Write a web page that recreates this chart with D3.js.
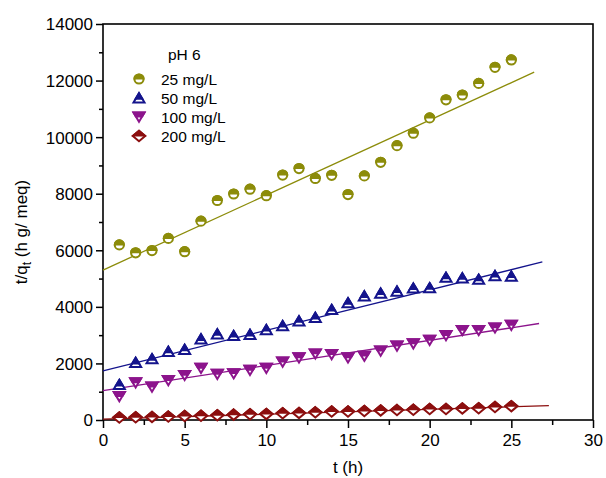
<!DOCTYPE html>
<html>
<head>
<meta charset="utf-8">
<script src="https://cdn.jsdelivr.net/npm/d3@7"></script>
<style>
  body { margin: 0; background: #fff; }
  text { font-family: "Liberation Sans", Arial, sans-serif; fill: #000; }
</style>
</head>
<body>
<div id="chart"></div>
<script>
// time points (h)
const hours = d3.range(1, 26);

// t/qt values, one array per concentration
const c25  = [6190, 5910, 5990, 6420, 5950, 7030, 7760, 7990, 8160, 7930, 8660, 8890, 8540, 8650, 7970,
              8630, 9110, 9700, 10140, 10680, 11320, 11490, 11900, 12470, 12730];
const c50  = [1250, 2030, 2160, 2420, 2490, 2860, 3040, 2980, 3020, 3190, 3330, 3500, 3620, 3900, 4140,
              4380, 4480, 4550, 4660, 4670, 5040, 5020, 4970, 5100, 5080];
const c100 = [830, 1320, 1170, 1400, 1580, 1830, 1620, 1640, 1760, 1830, 2050, 2200, 2340, 2320, 2200,
              2260, 2440, 2620, 2700, 2820, 2990, 3170, 3170, 3260, 3350];
const c200 = [90, 95, 110, 120, 140, 150, 170, 190, 205, 215, 240, 250, 270, 300, 300,
              320, 340, 350, 360, 390, 390, 410, 415, 460, 490];

// linear fits drawn through each set
const fitIntercept = [5300, 1740, 1035, 30];
const fitSlope     = [265, 143, 89, 17.5];
const fitEnd       = [26.4, 26.9, 26.7, 27.3];

const labels = ["25 mg/L", "50 mg/L", "100 mg/L", "200 mg/L"];
const colors = ["#8c8c0a", "#14148c", "#8c148c", "#8c0f0f"];
const shapes = ["circle", "triUp", "triDown", "diamond"];
const allSeries = [c25, c50, c100, c200];

const width = 606, height = 478;
const margin = {top: 24, right: 13, bottom: 58, left: 103};

const svg = d3.select("#chart").append("svg")
    .attr("width", width)
    .attr("height", height);

const x = d3.scaleLinear().domain([0, 30]).range([margin.left, width - margin.right]);
const y = d3.scaleLinear().domain([0, 14000]).range([height - margin.bottom, margin.top]);

// clips that keep the top part of a marker (local coords)
const defs = svg.append("defs");
defs.append("clipPath").attr("id", "tophalf")
  .append("rect").attr("x", -12).attr("y", -12).attr("width", 24).attr("height", 12.5);
defs.append("clipPath").attr("id", "topmost")
  .append("rect").attr("x", -12).attr("y", -12).attr("width", 24).attr("height", 13.8);

// marker outlines
function shapePath(s) {
  if (s == "circle") return "M-4.6,0A4.6,4.6 0 1,1 4.6,0A4.6,4.6 0 1,1 -4.6,0Z";
  if (s == "triUp") return "M0,-4.8L5.5,4.4L-5.5,4.4Z";
  if (s == "triDown") return "M0,4.8L5.5,-4.4L-5.5,-4.4Z";
  return "M0,-5.2L6.2,0L0,5.2L-6.2,0Z";
}

function drawMarker(g, s, col) {
  g.append("path").attr("d", shapePath(s))
    .attr("fill", "#fff").attr("stroke", col).attr("stroke-width", 2);
  g.append("path").attr("d", shapePath(s))
    .attr("fill", col).attr("stroke", col).attr("stroke-width", 2)
    .attr("clip-path", s == "triUp" ? "url(#topmost)" : "url(#tophalf)");
}

// axes (frame)
const xAxis = d3.axisBottom(x).tickValues(d3.range(0, 31, 5)).tickSize(8).tickPadding(4);
const xMinor = d3.axisBottom(x).tickValues(d3.range(2.5, 30, 5)).tickSize(5).tickFormat("");
const yAxis = d3.axisLeft(y).tickValues(d3.range(0, 14001, 2000)).tickSize(7).tickPadding(3)
    .tickFormat(d3.format("d"));
const yMinor = d3.axisLeft(y).tickValues(d3.range(1000, 14000, 2000)).tickSize(4).tickFormat("");

svg.append("g").attr("transform", `translate(0,${y(0)})`).call(xMinor);
svg.append("g").attr("transform", `translate(${x(0)},0)`).call(yMinor);

const gx = svg.append("g").attr("transform", `translate(0,${y(0)})`).call(xAxis);
const gy = svg.append("g").attr("transform", `translate(${x(0)},0)`).call(yAxis);

svg.selectAll(".tick line").attr("stroke", "#000").attr("stroke-width", 1.5);
svg.selectAll(".domain").attr("stroke", "none");
gx.selectAll("text").style("font-size", "17px").attr("dy", "0.85em");
gy.selectAll("text").style("font-size", "17px").attr("dy", "0.35em");

svg.append("rect")
    .attr("x", x(0)).attr("y", y(14000))
    .attr("width", x(30) - x(0)).attr("height", y(0) - y(14000))
    .attr("fill", "none").attr("stroke", "#000").attr("stroke-width", 1.6);

// fit lines
fitIntercept.forEach((b, i) => {
  svg.append("line")
    .attr("x1", x(0)).attr("y1", y(b))
    .attr("x2", x(fitEnd[i])).attr("y2", y(b + fitSlope[i] * fitEnd[i]))
    .attr("stroke", colors[i]).attr("stroke-width", 1.3);
});

// data points
allSeries.forEach((vals, i) => {
  const pts = svg.append("g").selectAll("g")
    .data(vals)
    .join("g")
    .attr("transform", (d, j) => `translate(${x(hours[j])},${y(d)})`);
  pts.each(function () { drawMarker(d3.select(this), shapes[i], colors[i]); });
});

// legend
svg.append("text").attr("x", 168).attr("y", 60).style("font-size", "15.5px").text("pH 6");
labels.forEach((lab, i) => {
  const ly = 79 + i * 19;
  drawMarker(svg.append("g").attr("transform", `translate(139,${ly})`), shapes[i], colors[i]);
  svg.append("text").attr("x", 161).attr("y", ly + 6).style("font-size", "15.5px").text(lab);
});

// axis titles
svg.append("text")
    .attr("x", x(15)).attr("y", 473)
    .attr("text-anchor", "middle").style("font-size", "17px")
    .text("t (h)");

const yt = svg.append("text")
    .attr("transform", `translate(27,${232}) rotate(-90)`)
    .attr("text-anchor", "middle").style("font-size", "17px");
yt.append("tspan").text("t/q");
yt.append("tspan").attr("dy", 4).style("font-size", "12px").text("t");
yt.append("tspan").attr("dy", -4).text(" (h g/ meq)");
</script>
</body>
</html>
